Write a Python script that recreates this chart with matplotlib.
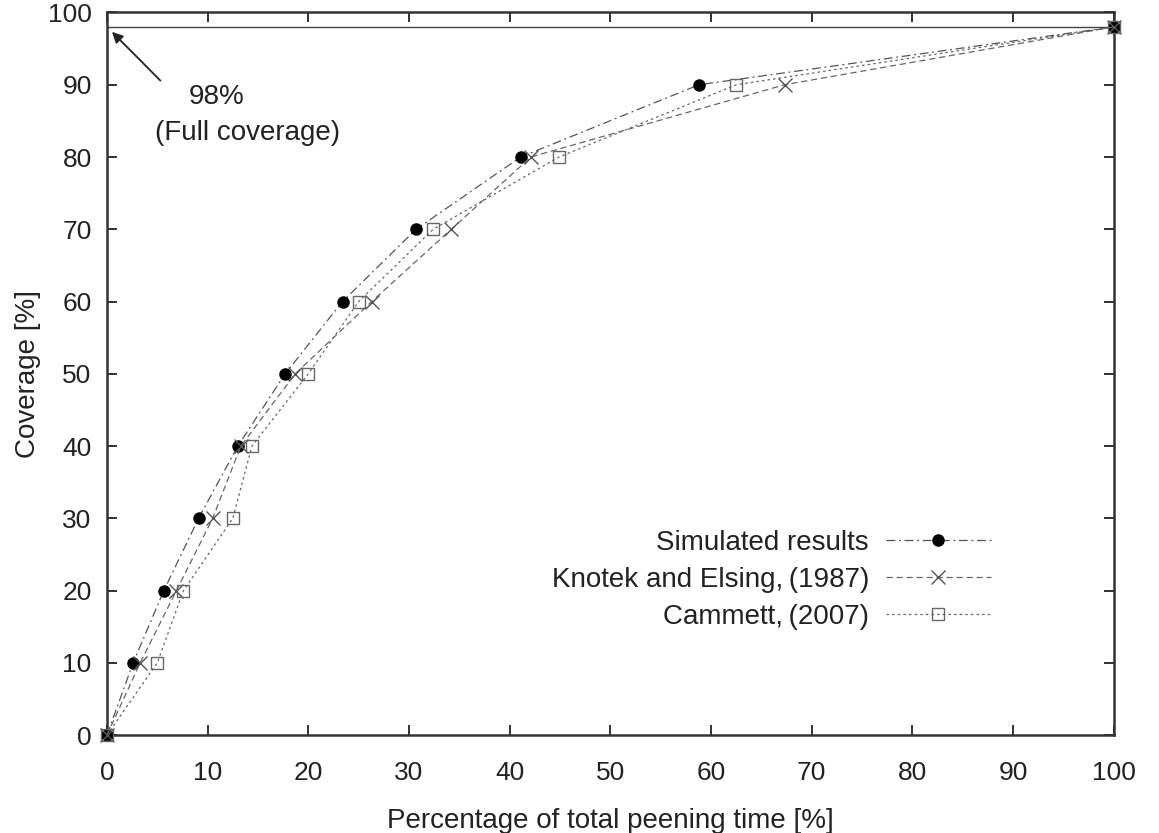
import matplotlib
matplotlib.use("Agg")
import matplotlib.pyplot as plt

plt.rcParams['font.family'] = ['Liberation Sans', 'DejaVu Sans']

coverage = [0, 10, 20, 30, 40, 50, 60, 70, 80, 90, 98]
sim_time = [0, 2.6, 5.65, 9.1, 13.0, 17.7, 23.4, 30.7, 41.1, 58.8, 100]
knotek_time = [0, 3.3, 6.9, 10.5, 13.3, 18.7, 26.3, 34.2, 42.1, 67.3, 100]
cammett_time = [0, 5.0, 7.6, 12.5, 14.4, 20.0, 25.0, 32.4, 44.9, 62.5, 100]

labels = ["Simulated results", "Knotek and Elsing,\u2009(1987)", "Cammett,\u2009(2007)"]
full_cov = 98
xticks = list(range(0, 101, 10))
yticks = list(range(0, 101, 10))

fig = plt.figure(figsize=(11.59, 8.33), dpi=100)
ax = fig.add_axes([0.0923, 0.1176, 0.8687, 0.8674])

ax.axhline(full_cov, color='#444444', lw=1.0, zorder=1)

ax.plot(sim_time, coverage, linestyle=(0, (7, 3, 1.5, 3)), color='#555555', lw=0.9,
        marker='o', markersize=8, markerfacecolor='black', markeredgecolor='black',
        label=labels[0], clip_on=False, zorder=3)
ax.plot(knotek_time, coverage, linestyle=(0, (5, 3)), color='#666666', lw=0.9,
        marker='x', markersize=10, markeredgewidth=1.0, markeredgecolor='#555555',
        label=labels[1], clip_on=False, zorder=4)
ax.plot(cammett_time, coverage, linestyle=(0, (2, 2.5)), color='#666666', lw=0.9,
        marker='s', markersize=9, markerfacecolor='none', markeredgewidth=1.0,
        markeredgecolor='#666666', label=labels[2], clip_on=False, zorder=5)

ax.set_xlim(0, 100)
ax.set_ylim(0, 100)
ax.set_xticks(xticks)
ax.set_yticks(yticks)
ax.tick_params(direction='in', length=7, width=1.3, top=True, right=True,
               labelsize=19, colors='#222222')
ax.tick_params(axis='x', pad=19)
ax.tick_params(axis='y', pad=11)
for s in ax.spines.values():
    s.set_linewidth(1.8)
    s.set_color('#333333')

ax.set_xlabel("Percentage of total peening time [%]", fontsize=20, color='#222222', labelpad=16)
ax.set_ylabel("Coverage [%]", fontsize=20, color='#222222', labelpad=5)

ax.annotate("", xy=(0.3, 97.6), xytext=(5.5, 90.3),
            arrowprops=dict(arrowstyle='-|>', color='#222222', lw=1.3, mutation_scale=16))
ax.text(10.9, 88.3, "98%", fontsize=20, ha='center', va='center', color='#222222')
ax.text(14.0, 83.3, "(Full coverage)", fontsize=20, ha='center', va='center', color='#222222')

ax.legend(loc='center right', bbox_to_anchor=(0.903, 0.215), frameon=False,
          markerfirst=False, fontsize=20, handlelength=3.8, labelspacing=0.4,
          handletextpad=0.6, labelcolor='#222222')

fig.savefig("out.png", dpi=100)
